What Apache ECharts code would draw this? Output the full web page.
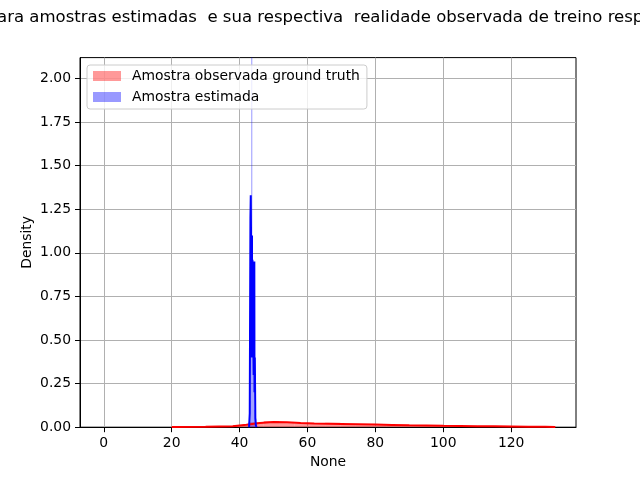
<!DOCTYPE html>
<html>
<head>
<meta charset="utf-8">
<script src="https://cdn.jsdelivr.net/npm/echarts@6/dist/echarts.min.js"></script>
<style>
html,body{margin:0;padding:0;background:#fff}
#chart{width:640px;height:480px}
</style>
</head>
<body>
<div id="chart"></div>
<script>
// title is wider than the figure, only the middle part shows
const titleText = 'Densidade para amostras estimadas  e sua respectiva  realidade observada de treino respectivamente'
const titleHiddenPrefix = 'Densidade p'

const xTicks = [0, 20, 40, 60, 80, 100, 120]
const yTicks = [0, 0.25, 0.5, 0.75, 1.0, 1.25, 1.5, 1.75, 2.0]

const legendNames = ['Amostra observada ground truth', 'Amostra estimada']

// histogram of observed (red)
const redBinStart = 20
const redBinWidth = 4.52
const redHist = [0.0005, 0.001, 0.002, 0.004, 0.012, 0.028, 0.036, 0.026, 0.022, 0.021, 0.025, 0.018,
  0.016, 0.014, 0.012, 0.011, 0.009, 0.008, 0.007, 0.006, 0.005, 0.004, 0.003, 0.003, 0.002]

// kde of observed (red)
const redKdeX = [20, 30, 38, 42, 46, 50, 54, 58, 62, 66, 70, 75, 80, 85, 90, 95, 100, 105, 110, 115, 120, 125, 130, 133]
const redKdeY = [0.001, 0.002, 0.006, 0.014, 0.024, 0.03, 0.028, 0.024, 0.021, 0.02, 0.019, 0.017,
  0.015, 0.013, 0.011, 0.010, 0.008, 0.007, 0.006, 0.005, 0.004, 0.003, 0.002, 0.001]

// histogram of estimated (blue)
const blueBinStart = 42.85
const blueBinWidth = 0.3
const blueHist = [0.15, 0.4, 2.3, 0.62, 0.3, 0.1, 0.05]

// kde of estimated (blue)
const blueKdeX = [42.8, 43.0, 43.2, 43.3, 43.6, 43.62, 43.66, 43.7, 43.8, 44.1, 44.15, 44.2, 44.35, 44.4, 44.5, 44.65, 44.8, 45.0]
const blueKdeY = [0, 0.08, 1.2, 1.33, 1.33, 0.4, 1.1, 0.62, 0.96, 0.96, 0.3, 0.9, 0.95, 0.2, 0.4, 0.05, 0.01, 0]

const font = 'DejaVu Sans'
const titleFont = '16.55px "' + font + '"'

function histSeries(name, start, width, heights, color) {
  return {
    type: 'custom',
    name: name,
    clip: true,
    itemStyle: {color: color},
    encode: {x: [0, 1], y: 2},
    data: heights.map((h, i) => [start + i * width, start + (i + 1) * width, h]),
    renderItem(params, api) {
      let p0 = api.coord([api.value(0), api.value(2)])
      let p1 = api.coord([api.value(1), 0])
      return {
        type: 'rect',
        shape: {x: p0[0], y: p0[1], width: p1[0] - p0[0], height: p1[1] - p0[1]},
        style: {fill: color}
      }
    }
  }
}

function lineSeries(name, xs, ys, color) {
  return {
    type: 'line',
    name: name,
    showSymbol: false,
    lineStyle: {color: color, width: 2},
    itemStyle: {color: color},
    data: xs.map((x, i) => [x, ys[i]])
  }
}

let ctx = document.createElement('canvas').getContext('2d')
ctx.font = titleFont
let prefixW = ctx.measureText(titleHiddenPrefix).width

let chart = echarts.init(document.getElementById('chart'))
let option = {
  animation: false,
  textStyle: {fontFamily: font},
  grid: {left: 80, right: 64, top: 57.6, bottom: 52.8, show: true, borderColor: '#000', borderWidth: 1},
  graphic: [{
    type: 'text',
    x: -prefixW - 3,
    y: 18,
    style: {text: titleText, font: titleFont, fill: '#000', verticalAlign: 'middle'}
  }],
  legend: {
    data: legendNames,
    orient: 'vertical',
    left: 87,
    top: 65,
    padding: [4, 7, 5, 6],
    itemGap: 7,
    itemWidth: 28,
    itemHeight: 10,
    icon: 'rect',
    borderColor: '#cccccc',
    borderWidth: 1,
    borderRadius: 3,
    backgroundColor: 'rgba(255,255,255,0.8)',
    textStyle: {fontSize: 13.9, color: '#000', fontFamily: font, padding: [0, 0, 0, 6]}
  },
  xAxis: {
    type: 'value',
    min: -7,
    max: 139.1,
    name: 'None',
    nameLocation: 'middle',
    nameGap: 28,
    nameMoveOverlap: false,
    nameTextStyle: {fontSize: 13.9, color: '#000'},
    axisLine: {show: true, onZero: false, lineStyle: {color: '#000', width: 1}},
    axisTick: {show: true, length: 5, customValues: xTicks, lineStyle: {color: '#000'}},
    axisLabel: {customValues: xTicks, fontSize: 13.9, color: '#000', margin: 9},
    splitLine: {show: true, lineStyle: {color: '#b0b0b0', width: 1}}
  },
  yAxis: {
    type: 'value',
    min: 0,
    max: 2.12,
    name: 'Density',
    nameLocation: 'middle',
    nameGap: 46,
    nameMoveOverlap: false,
    nameTextStyle: {fontSize: 13.9, color: '#000'},
    axisLine: {show: true, onZero: false, lineStyle: {color: '#000', width: 1}},
    axisTick: {show: true, length: 5, customValues: yTicks, lineStyle: {color: '#000'}},
    axisLabel: {customValues: yTicks, fontSize: 13.9, color: '#000', margin: 9, formatter: v => v.toFixed(2)},
    splitLine: {show: true, lineStyle: {color: '#b0b0b0', width: 1}}
  },
  series: [
    histSeries(legendNames[0], redBinStart, redBinWidth, redHist, 'rgba(255,0,0,0.4)'),
    lineSeries('kde observada', redKdeX, redKdeY, '#ff0000'),
    histSeries(legendNames[1], blueBinStart, blueBinWidth, blueHist, 'rgba(0,0,255,0.4)'),
    lineSeries('kde estimada', blueKdeX, blueKdeY, '#0000ff')
  ]
}
chart.setOption(option)
</script>
</body>
</html>
